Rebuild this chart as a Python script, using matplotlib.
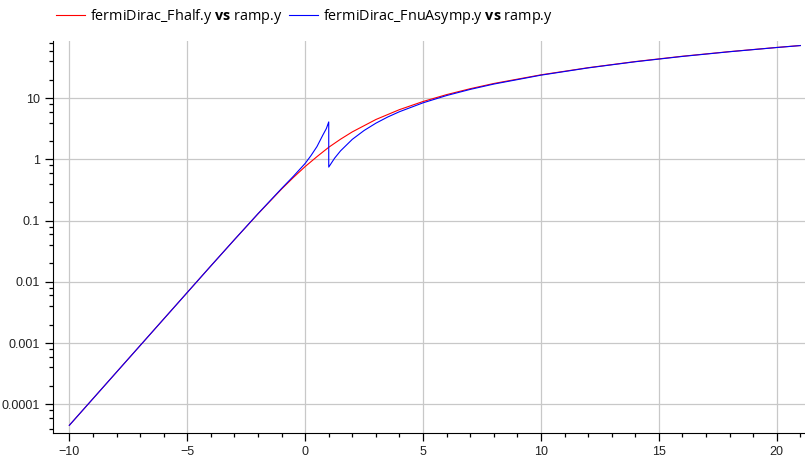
import numpy as np
import matplotlib
matplotlib.use("Agg")
import matplotlib.pyplot as plt
from matplotlib.ticker import FixedLocator, MultipleLocator, FuncFormatter

# values (x = ramp.y)
x_fhalf = [-10, -8, -6, -4, -3, -2, -1, -0.5, 0, 0.5, 1, 1.5, 2, 3, 4, 5, 6, 7, 8,
           10, 12, 14, 16, 18, 20, 21]
y_fhalf = [4.54e-5, 3.35e-4, 2.47e-3, 0.0182, 0.0489, 0.129, 0.328, 0.507, 0.765,
           1.11, 1.58, 2.14, 2.82, 4.49, 6.51, 8.84, 11.45, 14.3, 17.4,
           24.1, 31.5, 39.7, 48.5, 57.7, 67.5, 72.6]

x_asymp = [-10, -8, -6, -4, -3, -2, -1, -0.5, 0, 0.25, 0.5, 0.75, 0.9, 1.0,
           1.0, 1.25, 1.5, 2, 2.5, 3, 3.5, 4, 5, 6, 7, 8,
           10, 12, 14, 16, 18, 20, 21]
y_asymp = [4.54e-5, 3.35e-4, 2.47e-3, 0.0182, 0.0489, 0.130, 0.335, 0.53, 0.86, 1.16, 1.62,
           2.5, 3.2, 4.1,
           0.75, 1.05, 1.38, 2.13, 2.97, 3.91, 4.93, 6.02, 8.41, 11.06, 13.93, 17.02,
           23.79, 31.27, 39.41, 48.15, 57.45, 67.29, 72.39]

label_fhalf = r"fermiDirac_Fhalf.y $\mathbf{vs}$ ramp.y"
label_asymp = r"fermiDirac_FnuAsymp.y $\mathbf{vs}$ ramp.y"

plt.rcParams["mathtext.fontset"] = "custom"
plt.rcParams["mathtext.rm"] = "Open Sans"
plt.rcParams["mathtext.bf"] = "Open Sans:bold"

fig = plt.figure(figsize=(8.05, 4.58), dpi=100)
ax = fig.add_axes([53.3 / 805, 1 - 433 / 458, 1 - 53.3 / 805 + 0.001, (433 - 41) / 458])

l1, = ax.plot(x_fhalf, y_fhalf, color="#ff0000", lw=0.8)
l2, = ax.plot(x_asymp, y_asymp, color="#0000ff", lw=0.8)

ax.set_yscale("log")
ax.set_xlim(-10.68, 21.23)
ax.set_ylim(3.4e-5, 86)

ax.xaxis.set_major_locator(MultipleLocator(5))
ax.xaxis.set_minor_locator(MultipleLocator(1))
ax.yaxis.set_major_locator(FixedLocator([1e-4, 1e-3, 1e-2, 1e-1, 1, 10]))
minors = [m * 10.0 ** e for e in range(-5, 2) for m in (2, 4, 6, 8)]
ax.yaxis.set_minor_locator(FixedLocator(minors))
ax.yaxis.set_major_formatter(FuncFormatter(lambda v, p: "%g" % v))
ax.yaxis.set_minor_formatter(FuncFormatter(lambda v, p: ""))

for s in ("top", "right"):
    ax.spines[s].set_visible(False)
ax.tick_params(which="major", length=6, width=0.9, direction="out", labelsize=9,
               labelcolor="#222222")
ax.tick_params(which="minor", length=3, width=0.9, direction="out")
for lab in ax.get_xticklabels() + ax.get_yticklabels():
    lab.set_family("Liberation Sans")
ax.grid(True, which="major", color="#c8c8c8", lw=0.9)
ax.set_axisbelow(True)

fig.legend([l1, l2], [label_fhalf, label_asymp], loc="center left",
           bbox_to_anchor=(43 / 805, 1 - 17 / 458), ncol=2, frameon=False,
           handlelength=2.0, handletextpad=0.35, columnspacing=0.45,
           prop={"family": "Open Sans", "size": 10.4})

fig.savefig("out.png", dpi=100)
